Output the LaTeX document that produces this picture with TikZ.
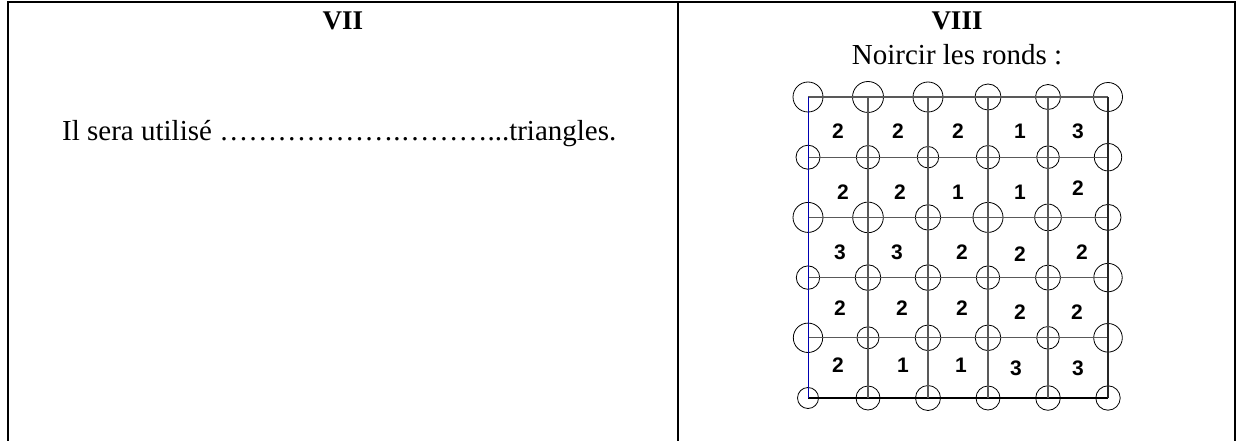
\documentclass[tikz,border=0pt]{standalone}
\usepackage{fontspec}
\setmainfont{Liberation Serif}
\newfontfamily\numfont{Liberation Sans}
\begin{document}
\begin{tikzpicture}[x=1pt,y=-1pt,
  border/.style={line width=2pt,black},
  gridline/.style={line width=1.1pt,black!65},
  ring/.style={circle,draw=black,line width=0.8pt,inner sep=0pt,minimum size=#1},
  num/.style={font=\numfont\bfseries\fontsize{21}{21}\selectfont,inner sep=0pt},
  title/.style={font=\bfseries\fontsize{27}{27}\selectfont,inner sep=0pt},
  body/.style={font=\fontsize{29}{29}\selectfont,inner sep=0pt}]
\useasboundingbox (0,0) rectangle (1236,441);
% table frame
\coordinate (tl) at (7.7,2);
\coordinate (tr) at (1235,2);
\coordinate (bl) at (7.7,441);
\coordinate (br) at (1235,441);
\coordinate (mt) at (678,2);
\coordinate (mb) at (678,441);
\draw[border] (bl) -- (tl) -- (tr) -- (br);
\draw[border] (mt) -- (mb);
% texts
\node[title,anchor=base] (t7) at (343,30) {VII};
\node[title,anchor=base] (t8) at (957,30) {VIII};
\node[body,anchor=base] (t8b) at (957,65) {Noircir les ronds :};
\node[body,anchor=base west] (t7b) at (62,140) {Il sera utilisé ……………….………...triangles.};
% circles: column/row/radius
\foreach \i/\j/\r in {
  0/0/15,1/0/15.5,2/0/15,3/0/13,4/0/12.5,5/0/14.5,
  0/1/12,1/1/11.7,2/1/10.7,3/1/11.7,4/1/11.3,5/1/13.7,
  0/2/15,1/2/15.3,2/2/12.7,3/2/15,4/2/13.3,5/2/13,
  0/3/11.7,1/3/12.8,2/3/12.8,3/3/11.7,4/3/12.5,5/3/14.2,
  0/4/14.7,1/4/11,2/4/12.8,3/4/12.8,4/4/11.3,5/4/14.3,
  0/5/10.5,1/5/12,2/5/12.5,3/5/12,4/5/12.3,5/5/12.2}{
  \pgfmathsetmacro{\rr}{2*\r}
  \node[ring=\rr pt] (c-\i-\j) at ({808+60*\i},{97+60.2*\j}) {};
}
% grid lines
\foreach \j in {0,...,4}{
  \draw[gridline] (c-0-\j.center) -- (c-5-\j.center);
}
\draw[line width=1.1pt,black] (c-0-5.center) -- (c-5-5.center);
\foreach \i in {1,...,4}{
  \draw[gridline] (c-\i-0.center) -- (c-\i-5.center);
}
\draw[line width=0.9pt,blue!70!black] (c-0-0.center) -- (c-0-5.center);
\draw[line width=1.1pt,black!85] (c-5-0.center) -- (c-5-5.center);
% numbers
\node[num] (n00) at (838,131) {2};
\node[num] (n10) at (898,131) {2};
\node[num] (n20) at (958,131) {2};
\node[num] (n30) at (1020,131) {1};
\node[num] (n40) at (1078,131) {3};
\node[num] (n01) at (843,192) {2};
\node[num] (n11) at (900,192) {2};
\node[num] (n21) at (958,192) {1};
\node[num] (n31) at (1020,192) {1};
\node[num] (n41) at (1078,188) {2};
\node[num] (n02) at (840,252) {3};
\node[num] (n12) at (897,252) {3};
\node[num] (n22) at (962,252) {2};
\node[num] (n32) at (1020,254) {2};
\node[num] (n42) at (1082,252) {2};
\node[num] (n03) at (840,308) {2};
\node[num] (n13) at (902,308) {2};
\node[num] (n23) at (962,308) {2};
\node[num] (n33) at (1020,312) {2};
\node[num] (n43) at (1077,312) {2};
\node[num] (n04) at (838,365) {2};
\node[num] (n14) at (903,365) {1};
\node[num] (n24) at (961,365) {1};
\node[num] (n34) at (1016,368) {3};
\node[num] (n44) at (1078,368) {3};
\end{tikzpicture}
\end{document}
